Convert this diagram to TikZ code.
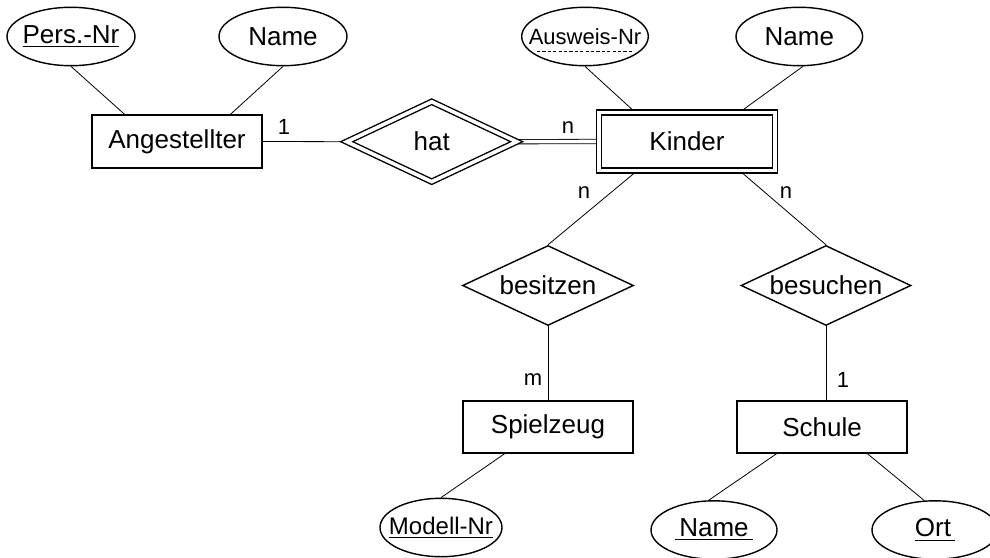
\documentclass[tikz,border=0pt]{standalone}
\usepackage{fontspec}
\setmainfont{Liberation Sans}
\usetikzlibrary{shapes.geometric,calc,backgrounds}
\begin{document}
\begin{tikzpicture}[x=0.5pt,y=-0.5pt,
  every node/.style={font=\fontsize{13}{15}\selectfont, line width=0.7pt},
  line width=0.7pt,
  entity/.style={draw, rectangle, inner sep=0pt, minimum width=85pt, minimum height=26.5pt},
  attr/.style={draw, ellipse, inner sep=0pt, minimum width=64pt, minimum height=29.2pt},
  rel/.style={draw, diamond, inner sep=0pt, minimum width=85.5pt, minimum height=40pt},
  dbl/.style={double, double distance=1.8pt},
  card/.style={font=\fontsize{11}{13}\selectfont, inner sep=0pt},
  keydash/.style={line width=0.5pt, dash pattern=on 1.6pt off 1.1pt},
]
\useasboundingbox (0,0) rectangle (990,557);

% attributes
\node[attr] (pers) at (71,36.5) {\makebox[0pt]{\underline{Pers.-Nr}}};
\node[attr] (nameL) at (283,36.5) {\makebox[0pt]{Name}};
\node[attr, minimum width=63.3pt] (aus) at (585,36.5) {\makebox[0pt]{\fontsize{11}{13}\selectfont Ausweis-Nr}};
\node[attr, minimum width=63.3pt] (nameR) at (799.3,36.5) {\makebox[0pt]{Name}};
\node[attr, minimum width=61pt] (modell) at (441,527.5) {\makebox[0pt]{\fontsize{12}{14}\selectfont\underline{Modell-Nr}}};
\node[attr, minimum width=63pt] (nameB) at (714,530) {\makebox[0pt]{\underline{\hspace{2pt}Name\hspace{2pt}}}};
\node[attr, minimum width=63pt] (ort) at (935,530) {\makebox[0pt]{\underline{Ort\hspace{2pt}}}};

% entities
\node[entity] (ang) at (177,141.5) {Angestellter};
\node[entity, dbl, minimum width=88pt, minimum height=29pt] (kind) at (687,141.5) {Kinder};
\node[entity, minimum height=26pt] (spiel) at (548,427) {Spielzeug};
\node[entity, minimum height=26pt] (schule) at (822,427) {Schule};

% relationships
\node[rel, dbl, minimum width=85.25pt, minimum height=40.25pt] (hat) at (431.7,141.7) {\makebox[0pt]{hat}};
\node[rel] (besitz) at (548,285.5) {\makebox[0pt]{besitzen}};
\node[rel, minimum width=85pt] (besuch) at (826,285.5) {\makebox[0pt]{besuchen}};

% partial key marker
\draw[keydash] ($(aus.center)+(-48,14.5)$) -- ($(aus.center)+(47,14.5)$);

% cardinalities
\node[card] (c1) at (284,127) {1};
\node[card] (c2) at (568,128) {n};
\node[card] (c3) at (584,193) {n};
\node[card] (c4) at (786,193) {n};
\node[card] (c5) at (533,380) {m};
\node[card] (c6) at (843,380) {1};

% connectors
\begin{scope}[on background layer]
\draw (pers.south) -- ($(ang.north west)!0.194!(ang.north east)$);
\draw (nameL.south) -- ($(ang.north west)!0.812!(ang.north east)$);
\draw (ang.east) -- (hat.west);
\draw[dbl] (hat.east) -- (kind.west);
\draw (aus.south) -- ($(kind.north west)!0.205!(kind.north east)$);
\draw (nameR.-83) -- ($(kind.north west)!0.80!(kind.north east)$);
\draw ($(kind.south west)!0.216!(kind.south east)$) -- (besitz.north);
\draw ($(kind.south west)!0.80!(kind.south east)$) -- (besuch.north);
\draw (besitz.south) -- (besitz.south |- spiel.north);
\draw (besuch.south) -- (besuch.south |- schule.north);
\draw ($(spiel.south west)!0.247!(spiel.south east)$) -- (modell.north);
\draw ($(schule.south west)!0.235!(schule.south east)$) -- (nameB.100);
\draw ($(schule.south west)!0.765!(schule.south east)$) -- (ort.110);
\end{scope}
\end{tikzpicture}
\end{document}
